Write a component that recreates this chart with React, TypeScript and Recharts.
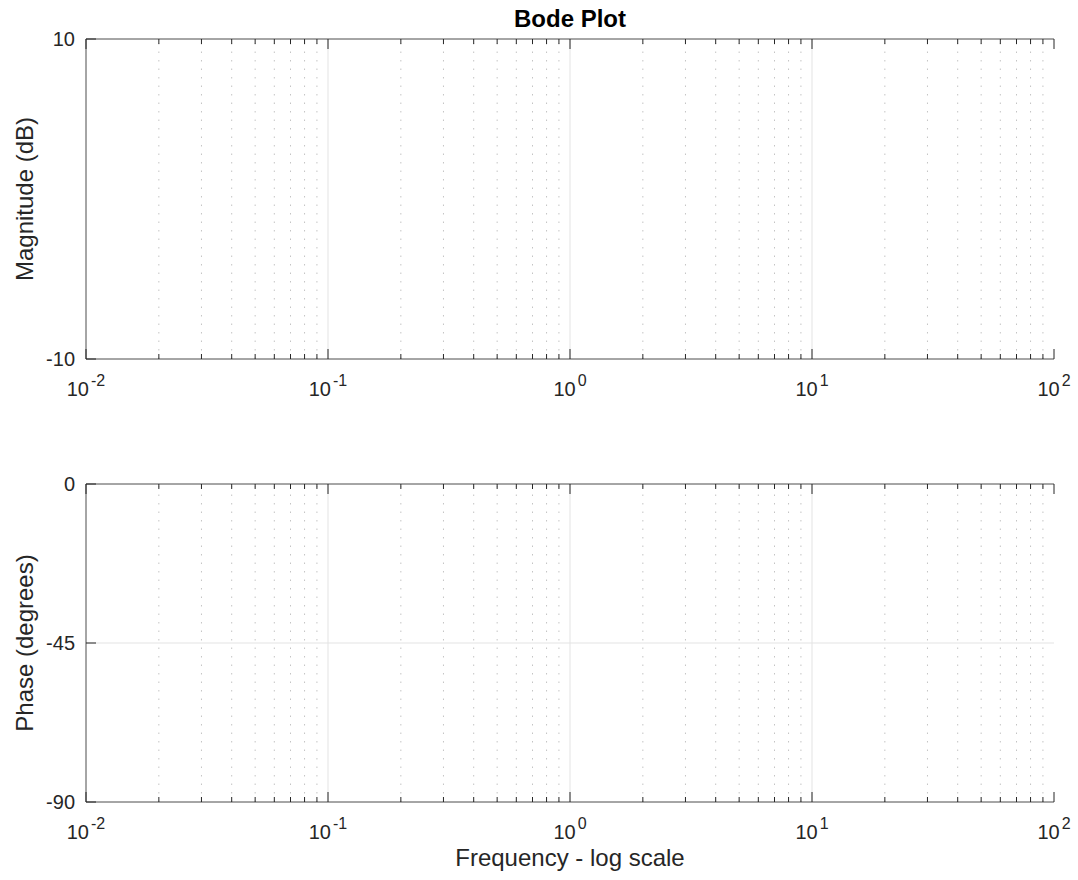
import { Line, LineChart, ReferenceLine, XAxis, YAxis } from 'recharts'

// Bode plot: two empty panels (magnitude / phase) on a log frequency axis.
const majorFreqs = [0.01, 0.1, 1, 10, 100]
const minorFreqs = [
  0.02, 0.03, 0.04, 0.05, 0.06, 0.07, 0.08, 0.09,
  0.2, 0.3, 0.4, 0.5, 0.6, 0.7, 0.8, 0.9,
  2, 3, 4, 5, 6, 7, 8, 9,
  20, 30, 40, 50, 60, 70, 80, 90,
]
const freqTicks = [...majorFreqs, ...minorFreqs].sort((a, b) => a - b)
const decadeExponents = ['-2', '-1', '0', '1', '2']

const magTicks = [-10, 10]
const phaseTicks = [-90, -45, 0]

// no traces are drawn in the reference, so the series stay empty
const magnitudeDb: (number | null)[] = []
const phaseDeg: (number | null)[] = []

const FONT = '"Liberation Sans", Arial, Helvetica, sans-serif'
const INK = '#262626'
const FRAME = '#4d4d4d'
const GRID_MAJOR = '#e3e3e3'
const GRID_MINOR = '#c4c4c4'

const isMajor = (v: number) => majorFreqs.includes(v)

const BottomTick = (p: any) => {
  const { x, y, payload } = p
  const v = payload.value
  const major = isMajor(v)
  const exp = decadeExponents[majorFreqs.indexOf(v)]
  return (
    <g>
      <line x1={x} x2={x} y1={y} y2={y - (major ? 10 : 5)} stroke={INK} />
      {major && (
        <text x={x} y={y + 37} textAnchor="middle" fontSize={20} fill={INK} fontFamily={FONT}>
          10
          <tspan dx={2} dy={-10} fontSize={16}>
            {exp}
          </tspan>
        </text>
      )}
    </g>
  )
}

const TopTick = (p: any) => {
  const { x, y, payload } = p
  const len = isMajor(payload.value) ? 10 : 5
  return <line x1={x} x2={x} y1={y} y2={y + len} stroke={INK} />
}

const LeftTick = (p: any) => {
  const { x, y, payload } = p
  return (
    <g>
      <line x1={x} x2={x + 10} y1={y} y2={y} stroke={INK} />
      <text x={x - 11} y={y + 7} textAnchor="end" fontSize={20} fill={INK} fontFamily={FONT}>
        {payload.value}
      </text>
    </g>
  )
}

const RightTick = (p: any) => {
  const { x, y } = p
  return <line x1={x} x2={x - 10} y1={y} y2={y} stroke={INK} />
}

type PanelProps = {
  values: (number | null)[]
  yTicks: number[]
  yLabel: string
  topAxisH: number
  bottomAxisH: number
  title?: string
  xLabel?: string
}

function Panel({ values, yTicks, yLabel, topAxisH, bottomAxisH, title, xLabel }: PanelProps) {
  const yDomain = [yTicks[0], yTicks[yTicks.length - 1]]
  const data = freqTicks.map((f, i) => ({ freq: f, val: values[i] ?? null }))
  const innerY = yTicks.slice(1, -1)
  const innerMajors = majorFreqs.slice(1, -1)

  return (
    <LineChart width={1078} height={440} data={data} margin={{ top: 0, right: 24, bottom: 0, left: 0 }}>
      <XAxis
        xAxisId="b"
        dataKey="freq"
        type="number"
        scale="log"
        domain={[0.01, 100]}
        allowDataOverflow
        ticks={freqTicks}
        interval={0}
        tickSize={0}
        tickMargin={0}
        tickLine={false}
        axisLine={{ stroke: FRAME }}
        tick={<BottomTick />}
        height={bottomAxisH}
        label={
          xLabel
            ? {
                content: ({ viewBox }: any) => (
                  <text
                    x={viewBox.x + viewBox.width / 2}
                    y={viewBox.y + 64}
                    textAnchor="middle"
                    fontSize={24}
                    fill={INK}
                    fontFamily={FONT}
                  >
                    {xLabel}
                  </text>
                ),
              }
            : undefined
        }
      />
      <XAxis
        xAxisId="t"
        dataKey="freq"
        orientation="top"
        type="number"
        scale="log"
        domain={[0.01, 100]}
        allowDataOverflow
        ticks={freqTicks}
        interval={0}
        tickSize={0}
        tickMargin={0}
        tickLine={false}
        axisLine={{ stroke: FRAME }}
        tick={<TopTick />}
        height={topAxisH}
        label={
          title
            ? {
                content: ({ viewBox }: any) => (
                  <text
                    x={viewBox.x + viewBox.width / 2}
                    y={27}
                    textAnchor="middle"
                    fontSize={24}
                    fontWeight="bold"
                    fill="#000"
                    fontFamily={FONT}
                  >
                    {title}
                  </text>
                ),
              }
            : undefined
        }
      />
      <YAxis
        yAxisId="l"
        type="number"
        domain={yDomain}
        allowDataOverflow
        ticks={yTicks}
        interval={0}
        tickSize={0}
        tickMargin={0}
        tickLine={false}
        axisLine={{ stroke: FRAME }}
        tick={<LeftTick />}
        width={86}
        label={{
          content: ({ viewBox }: any) => {
            const cy = viewBox.y + viewBox.height / 2
            return (
              <text
                x={33}
                y={cy}
                transform={`rotate(-90 33 ${cy})`}
                textAnchor="middle"
                fontSize={24}
                fill={INK}
                fontFamily={FONT}
              >
                {yLabel}
              </text>
            )
          },
        }}
      />
      <YAxis
        yAxisId="r"
        orientation="right"
        type="number"
        domain={yDomain}
        allowDataOverflow
        ticks={yTicks}
        interval={0}
        tickSize={0}
        tickMargin={0}
        tickLine={false}
        axisLine={{ stroke: FRAME }}
        tick={<RightTick />}
        width={0}
      />
      {minorFreqs.map((f) => (
        <ReferenceLine
          key={`mi${f}`}
          xAxisId="b"
          yAxisId="l"
          x={f}
          stroke={GRID_MINOR}
          strokeDasharray="1.5 7"
        />
      ))}
      {innerMajors.map((f) => (
        <ReferenceLine key={`ma${f}`} xAxisId="b" yAxisId="l" x={f} stroke={GRID_MAJOR} />
      ))}
      {innerY.map((v) => (
        <ReferenceLine key={`y${v}`} xAxisId="b" yAxisId="l" y={v} stroke={GRID_MAJOR} />
      ))}
      <Line
        xAxisId="b"
        yAxisId="l"
        dataKey="val"
        stroke="#0072bd"
        strokeWidth={1.5}
        dot={false}
        isAnimationActive={false}
      />
    </LineChart>
  )
}

export default function App() {
  return (
    <div style={{ position: 'absolute', left: 0, top: 0, width: 1078, height: 880, background: '#fff' }}>
      <Panel
        values={magnitudeDb}
        yTicks={magTicks}
        yLabel="Magnitude (dB)"
        topAxisH={39}
        bottomAxisH={81}
        title="Bode Plot"
      />
      <Panel
        values={phaseDeg}
        yTicks={phaseTicks}
        yLabel="Phase (degrees)"
        topAxisH={44}
        bottomAxisH={78}
        xLabel="Frequency - log scale"
      />
    </div>
  )
}
